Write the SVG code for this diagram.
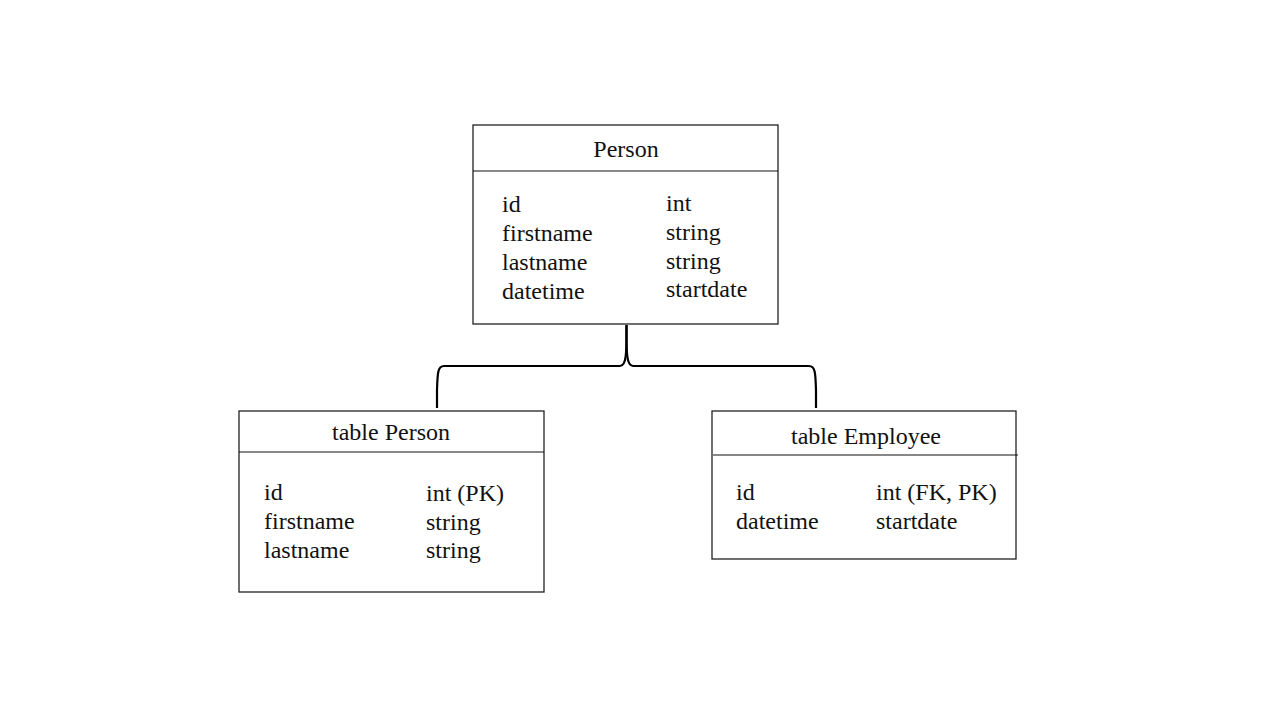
<svg xmlns="http://www.w3.org/2000/svg" width="1280" height="720" viewBox="0 0 1280 720">
<style>
.box{fill:#fff;stroke:#222;stroke-width:1.3}
.sep{stroke:#111;stroke-width:1.2}
text{font-family:"Liberation Serif","Times New Roman",serif;font-size:24px;fill:#111}
.t{text-anchor:middle}
.con{fill:none;stroke:#000;stroke-width:2.2}
</style>
<rect width="1280" height="720" fill="#fff"/>
<g id="connectors">
<path class="con" d="M626.5,325 C626.5,350 627,366 620,366 L444,366 C438,366 437.5,372 437,390 L437,408"/>
<path class="con" d="M626.5,325 C626.5,350 626,366 633,366 L809,366 C815,366 815.5,372 816,390 L816,408"/>
</g>
<g id="person">
<rect class="box" x="473" y="125" width="305" height="199"/>
<line class="sep" x1="473" y1="171" x2="778" y2="171"/>
<text class="t" x="626" y="157">Person</text>
<text x="502" y="212">id</text>
<text x="502" y="241">firstname</text>
<text x="502" y="270">lastname</text>
<text x="502" y="299">datetime</text>
<text x="666" y="211">int</text>
<text x="666" y="240">string</text>
<text x="666" y="269">string</text>
<text x="666" y="297">startdate</text>
</g>
<g id="table-person">
<rect class="box" x="239" y="411" width="305" height="181"/>
<line class="sep" x1="239" y1="452" x2="544" y2="452"/>
<text class="t" x="391" y="440">table Person</text>
<text x="264" y="500">id</text>
<text x="264" y="529">firstname</text>
<text x="264" y="558">lastname</text>
<text x="426" y="501">int (PK)</text>
<text x="426" y="530">string</text>
<text x="426" y="558">string</text>
</g>
<g id="table-employee">
<rect class="box" x="712" y="411" width="304" height="148"/>
<line class="sep" x1="713" y1="455" x2="1018" y2="455"/>
<text class="t" x="866" y="444">table Employee</text>
<text x="736" y="500">id</text>
<text x="736" y="529">datetime</text>
<text x="876" y="500">int (FK, PK)</text>
<text x="876" y="529">startdate</text>
</g>
</svg>
